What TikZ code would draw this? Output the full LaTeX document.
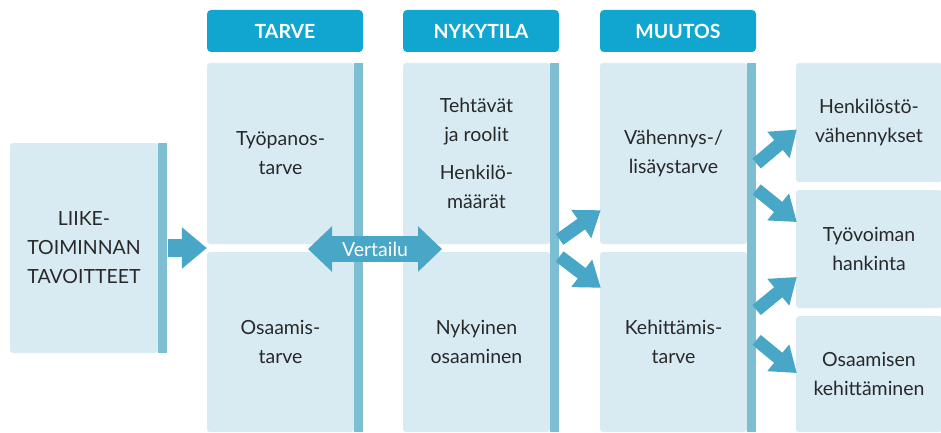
\documentclass[tikz,border=0pt]{standalone}
\usepackage{fontspec}
\setmainfont{Lato}
\usetikzlibrary{arrows.meta,positioning,calc}
\definecolor{headblue}{RGB}{16,166,208}
\definecolor{boxbg}{RGB}{216,235,243}
\definecolor{stripe}{RGB}{126,190,210}
\definecolor{arrowblue}{RGB}{72,166,198}
\definecolor{txt}{RGB}{40,40,40}
\tikzset{
  tab/.style={fill=headblue,rounded corners=4pt,text=white,inner sep=0pt,
              minimum width=156,minimum height=42,
              font=\bfseries\fontsize{19.5}{22}\selectfont},
  cell/.style={fill=boxbg,rounded corners=3pt,align=center,inner sep=0pt,
               minimum width=147,text=txt,font=\fontsize{19.5}{29}\selectfont},
  bar/.style={fill=stripe,inner sep=0pt,minimum width=9,anchor=north west},
  fat/.style={-{Triangle[length=24pt,width=33pt]},line width=13pt,draw=arrowblue},
  fatter/.style={fat,-{Triangle[length=25pt,width=40pt]},line width=18pt},
}
\begin{document}
\begin{tikzpicture}[x=1pt,y=-1pt]
  \useasboundingbox[fill=white] (0,0) rectangle (941,433);

  % --- lähtökohta ----------------------------------------------------------
  \node[cell,minimum width=148,minimum height=210] (goal) at (84,248)
        {LIIKE-\\TOIMINNAN\\TAVOITTEET};
  \node[bar,minimum height=210] (goalbar) at (goal.north east) {};

  % --- otsikot -------------------------------------------------------------
  \node[tab] (thead) at (285,31)   {TARVE};
  \node[tab] (nhead) at (481,31)   {NYKYTILA};
  \node[tab] (mhead) at (678,31)   {MUUTOS};

  % --- tarve ---------------------------------------------------------------
  \node[cell,minimum height=181] (ttop) at (280.5,153.5) {Työpanos-\\tarve};
  \node[cell,minimum height=180] (tbot) at (280.5,342)   {Osaamis-\\tarve};
  \node[bar,minimum height=369]  (tbar) at (ttop.north east) {};

  % --- nykytila ------------------------------------------------------------
  \node[cell,minimum height=181] (ntop) at (476.5,153.5)
        {Tehtävät\\ja roolit\\[9pt]Henkilö-\\määrät};
  \node[cell,minimum height=180] (nbot) at (476.5,342)   {Nykyinen\\osaaminen};
  \node[bar,minimum height=369]  (nbar) at (ntop.north east) {};

  % --- muutos --------------------------------------------------------------
  \node[cell,minimum height=181] (mtop) at (673.5,153.5) {Vähennys-/\\lisäystarve};
  \node[cell,minimum height=180] (mbot) at (673.5,342)   {Kehittämis-\\tarve};
  \node[bar,minimum height=369]  (mbar) at (mtop.north east) {};

  % --- toimenpiteet --------------------------------------------------------
  \node[cell,minimum width=146,minimum height=119] (r1) at (869,122.5)
        {Henkilöstö-\\vähennykset};
  \node[cell,minimum width=146,minimum height=118] (r2) at (869,249)
        {Työvoiman\\hankinta};
  \node[cell,minimum width=146,minimum height=116] (r3) at (869,374)
        {Osaamisen\\kehittäminen};

  % --- nuolet --------------------------------------------------------------
  \draw[fatter] (goalbar.east) -- (goalbar.east -| ttop.west);

  \coordinate (vl) at (308,249);
  \coordinate (vr) at (442,249);
  \draw[draw=arrowblue,line width=26pt,
        {Triangle[length=24pt,width=44pt]}-{Triangle[length=24pt,width=44pt]}]
        (vl) -- (vr) node[midway,text=white,font=\fontsize{19.5}{22}\selectfont]{Vertailu};

  \draw[fat] ($(nbar.east)+(0,-8)$) -- ($(mtop.south west)+(1,-34)$);
  \draw[fat] ($(nbar.east)+(0,9)$)  -- ($(mbot.north west)+(1,36)$);

  \draw[fat] ($(mtop.east -| mbar.east)+(0,10)$)  -- ($(r1.west)+(1,7)$);
  \draw[fat] ($(mtop.east -| mbar.east)+(0,36)$)  -- ($(r2.west)+(1,-27)$);
  \draw[fat] ($(mbot.east -| mbar.east)+(0,-32)$) -- ($(r2.west)+(1,28)$);
  \draw[fat] ($(mbot.east -| mbar.east)+(0,-2)$)  -- ($(r3.west)+(1,-1)$);

\end{tikzpicture}
\end{document}
